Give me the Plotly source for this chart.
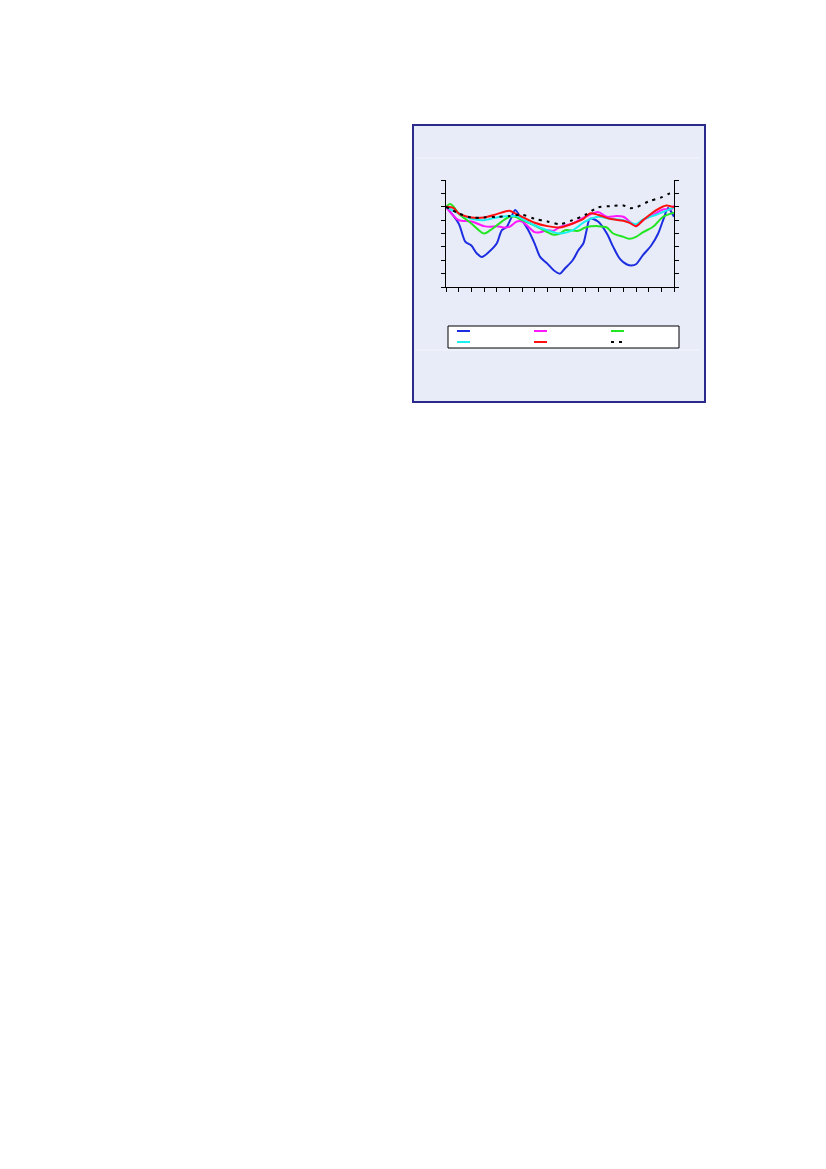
import plotly.graph_objects as go

# readings (x = tick index 0..18, y = gridline units 0..8)
blue_x = [0, 1, 1.52, 2, 2.44, 2.83, 3.36, 4, 4.41, 4.8, 5.07, 5.46, 6, 6.5, 7, 7.43, 8, 8.5, 9, 9.4,
          10, 10.45, 10.84, 11.1, 11.36, 12, 12.7, 13.2, 13.73, 14.25, 14.65, 15, 15.56, 16.2, 16.75,
          17.14, 17.53, 17.8, 18]
blue_y = [6, 4.75, 3.4, 3.1, 2.5, 2.25, 2.6, 3.25, 4.25, 4.5, 5, 5.75, 5, 4.25, 3.25, 2.25, 1.75, 1.25, 1.0, 1.4,
          2, 2.75, 3.25, 4.25, 5.1, 4.9, 4, 3, 2.1, 1.7, 1.6, 1.7, 2.4, 3.1, 4,
          5, 5.9, 5.6, 5.25]

magenta_x = [0, 1, 2, 3, 3.5, 4, 4.54, 5, 5.59, 6, 6.5, 7, 7.43, 8, 8.5, 9, 10, 11, 12, 12.7,
             13.46, 14, 14.5, 15, 15.56, 16.35, 17.14, 17.8, 18]
magenta_y = [6, 5, 4.9, 4.55, 4.5, 4.55, 4.45, 4.5, 4.9, 4.9, 4.5, 4.1, 4.1, 4.25, 4.2, 4.5, 4.75, 5.25, 5.6, 5.25,
             5.3, 5.25, 4.9, 4.55, 5, 5.4, 5.8, 5.8, 6.1]

green_x = [0, 0.34, 0.6, 1, 2, 3, 3.5, 4, 5, 5.46, 6, 7, 8, 8.5, 9, 9.4, 10.45, 11, 12, 12.7,
           13.2, 14, 14.5, 15, 15.56, 16.35, 17.14, 18]
green_y = [6, 6.2, 6, 5.5, 4.75, 4, 4.25, 4.6, 5.25, 5.25, 5, 4.6, 4.1, 3.9, 4, 4.25, 4.2, 4.45, 4.55, 4.45,
           4, 3.75, 3.6, 3.75, 4.1, 4.5, 5.25, 5.55]

cyan_x = [0, 1, 2, 3, 4, 5, 5.59, 6, 7, 8, 9, 10, 11, 12, 12.94, 14, 15, 15.56, 16.6, 18]
cyan_y = [6, 5.5, 5.1, 5, 5.2, 5.3, 5.3, 5.1, 4.6, 4.25, 4, 4.25, 4.9, 5.25, 5.1, 5, 4.7, 5.05, 5.4, 5.95]

red_x = [0, 0.6, 1, 2, 3, 4, 5, 5.46, 6, 7, 8, 9, 10, 10.84, 11.36, 12, 12.94, 14, 14.5, 15,
         15.56, 16.6, 17.4, 18]
red_y = [6, 5.9, 5.5, 5.2, 5.2, 5.45, 5.7, 5.5, 5.25, 4.8, 4.55, 4.45, 4.75, 5.1, 5.5, 5.4, 5.1, 4.95, 4.8, 4.55,
         5, 5.75, 6.1, 5.95]

black_x = [0, 1, 2, 3, 4, 5, 6, 7, 8, 9, 10, 11, 12, 13, 14, 14.5, 15, 16, 17, 17.66, 18]
black_y = [6, 5.5, 5.2, 5.2, 5.25, 5.3, 5.4, 5.1, 4.9, 4.7, 5, 5.4, 5.95, 6.05, 6.1, 5.9, 5.95, 6.4, 6.7, 7, 7.1]

W, H = 826, 1169
OFF = 8  # page body margin
L, R, T, B = 438, 160, 172, 890
PW, PH = W - L - R, H - T - B


def px(xs):
    # screen x -> paper x
    return (xs - OFF - L) / PW


def py(ys):
    # screen y -> paper y
    return ((H - B) - (ys - OFF)) / PH


fig = go.Figure()

series = [
    (blue_x, blue_y, "#1c2ee0", "solid"),
    (magenta_x, magenta_y, "#ff19ff", "solid"),
    (green_x, green_y, "#22e622", "solid"),
    (cyan_x, cyan_y, "#19f0f0", "solid"),
    (red_x, red_y, "#ff1010", "solid"),
    (black_x, black_y, "#000000", "3px,5px"),
]
for sx, sy, col, dash in series:
    fig.add_trace(go.Scatter(x=sx, y=sy, mode="lines", showlegend=False,
                             line=dict(color=col, width=2, dash=dash, shape="spline", smoothing=0.8)))

# outer panel
fig.add_shape(type="rect", xref="paper", yref="paper",
              x0=px(413), x1=px(705), y0=py(402), y1=py(125),
              fillcolor="#e8ebf8", line=dict(color="#2a2a8c", width=2), layer="below")
for yy in (158, 350):
    fig.add_shape(type="line", xref="paper", yref="paper",
                  x0=px(415), x1=px(700), y0=py(yy), y1=py(yy),
                  line=dict(color="#f6f7fc", width=1), layer="below")

# legend box, 3 columns x 2 rows of samples (no labels in the source)
fig.add_shape(type="rect", xref="paper", yref="paper",
              x0=px(448), x1=px(679), y0=py(348), y1=py(326),
              fillcolor="white", line=dict(color="black", width=1))
col_x = [457, 534, 611]
row_y = [331, 342]
for k, (_, _, col, dash) in enumerate(series):
    cx, ry = col_x[k % 3], row_y[k // 3]
    fig.add_shape(type="line", xref="paper", yref="paper",
                  x0=px(cx), x1=px(cx + 13), y0=py(ry), y1=py(ry),
                  line=dict(color=col, width=2, dash=dash))

fig.update_layout(
    width=W, height=H, autosize=False,
    paper_bgcolor="white", plot_bgcolor="white",
    margin=dict(l=L, r=R, t=T, b=B),
    showlegend=False,
)
fig.update_xaxes(range=[0, 18], dtick=1, tick0=0, ticks="outside", ticklen=4,
                 tickcolor="black", showline=True, linecolor="black", linewidth=1,
                 showgrid=False, zeroline=False, showticklabels=False)
fig.update_yaxes(range=[0, 8], dtick=1, tick0=0, ticks="outside", ticklen=4,
                 tickcolor="black", showline=True, linecolor="black", linewidth=1,
                 mirror="ticks", showgrid=False, zeroline=False, showticklabels=False)

fig.write_html("out.html")
